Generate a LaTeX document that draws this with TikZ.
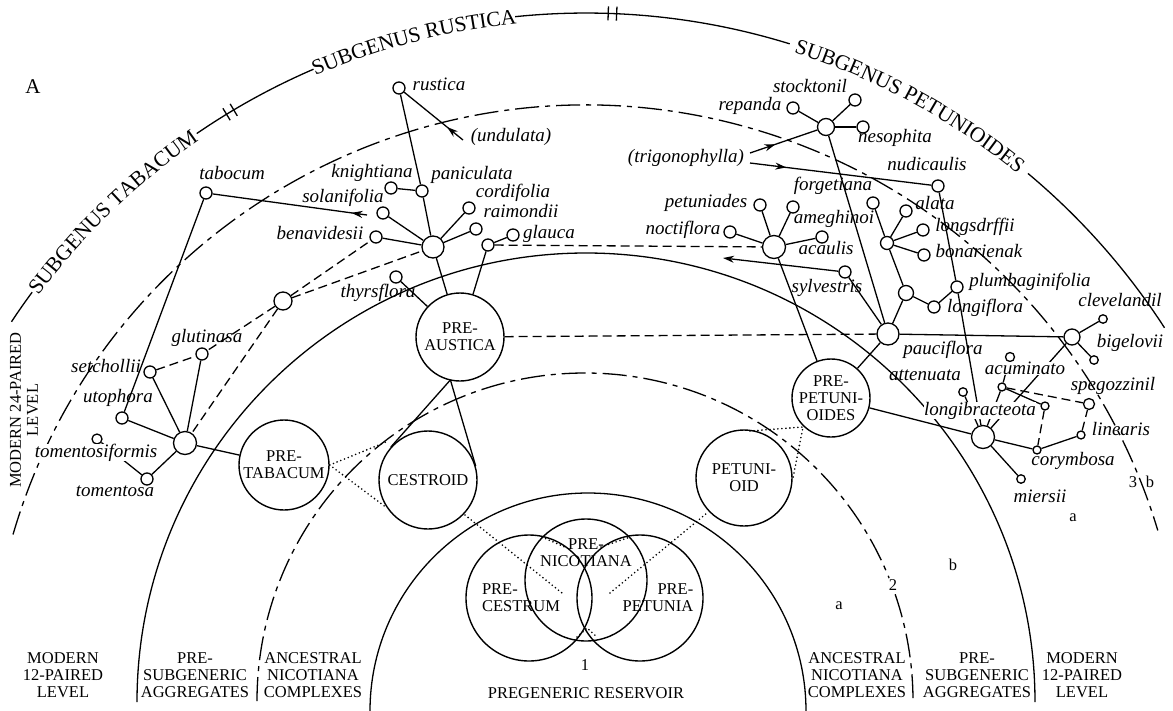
\documentclass[tikz,border=0pt]{standalone}
\usepackage{fontspec}
\setmainfont{Liberation Serif}
\usetikzlibrary{calc,decorations.text,decorations.markings,arrows.meta}
\newcommand\lbf{\fontsize{19}{19}\selectfont\itshape}
\newcommand\capf{\fontsize{16.5}{17}\selectfont}
\newcommand\subgf{\fontsize{21.5}{21.5}\selectfont}
\begin{document}
\begin{tikzpicture}[x=1pt,y=-1pt,line width=1.3pt,
  leaf/.style={circle,draw,fill=white,minimum size=12pt,inner sep=0pt},
  sleaf/.style={leaf,minimum size=8.5pt},
  hub/.style={circle,draw,fill=white,minimum size=22pt,inner sep=0pt},
  big/.style={circle,draw,inner sep=0pt,line width=1.4pt},
  lab/.style={font=\lbf,inner sep=0pt,anchor=mid},
  captxt/.style={font=\capf,align=center,inner sep=0pt},
  dsh/.style={dash pattern=on 9pt off 5pt},
  dotl/.style={line cap=round,dash pattern=on 0pt off 4pt,line width=1.8pt},
  ddot/.style={dash pattern=on 24pt off 6pt on 5pt off 6pt},
  midarr/.style={postaction={decorate,decoration={markings,mark=at position #1 with {\arrow{Stealth[length=11pt,width=7pt]}}}}}
]
\useasboundingbox (0,0) rectangle (1173,710);
% ---------- concentric arcs ----------
\coordinate (C) at (586,702);
\draw (588,711) ++(180:218) arc[start angle=180,end angle=360,radius=218];
\draw[ddot] (585,701) ++(180:328) arc[start angle=180,end angle=338,radius=328];
\draw[ddot] (585,701) ++(341:328) arc[start angle=341,end angle=360,radius=328];
\draw (C) ++(180:449) arc[start angle=180,end angle=360,radius=449];
\draw[ddot] (C) ++(196.3:597) arc[start angle=196.3,end angle=343.3,radius=597];
% outer subgenus arc
\draw (C) ++(-146.5:689) arc[start angle=-146.5,end angle=-143.5,radius=689];
\draw (C) ++(-124.4:689) arc[start angle=-124.4,end angle=-113.3,radius=689];
\draw (C) ++(-95.9:689) arc[start angle=-95.9,end angle=-72.8,radius=689];
\draw (C) ++(-50.1:689) arc[start angle=-50.1,end angle=-32.9,radius=689];
\foreach \t in {-121.45,-120.75,-88.15,-87.45}{
  \draw ($(C)+(\t:682)$) -- ($(C)+(\t:696)$);
}
\path[decorate,decoration={text along path,text align=center,raise=-7pt,
  text={|\subgf|SUBGENUS TABACUM}}]
  (C) ++(-149:689) arc[start angle=-149,end angle=-119,radius=689];
\path[decorate,decoration={text along path,text align=center,raise=-7pt,
  text={|\subgf|SUBGENUS RUSTICA}}]
  (C) ++(-119.6:689) arc[start angle=-119.6,end angle=-89.6,radius=689];
\path[decorate,decoration={text along path,text align=center,raise=-7pt,
  text={|\subgf|SUBGENUS PETUNIOIDES}}]
  (C) ++(-76.5:689) arc[start angle=-76.5,end angle=-46.5,radius=689];
% ---------- big circles ----------
\node[big,minimum size=88pt] (preaustica) at (460,337) {};
\node[big,minimum size=98pt] (cestroid) at (428,480) {};
\node[big,minimum size=90pt] (pretabacum) at (284,465) {};
\node[big,minimum size=96pt] (petunioid) at (744,478) {};
\node[big,minimum size=78pt] (prepetunioides) at (831,398) {};
\node[big,minimum size=122pt] (prenicotiana) at (586,580) {};
\node[big,minimum size=126pt] (precestrum) at (529,598) {};
\node[big,minimum size=126pt] (prepetunia) at (640,598) {};
\node[captxt] (tpreaustica) at (preaustica) {PRE-\\AUSTICA};
\node[captxt] (tcestroid) at (cestroid) {CESTROID};
\node[captxt] (tpretabacum) at (pretabacum) {PRE-\\TABACUM};
\node[captxt] (tpetunioid) at (petunioid) {PETUNI-\\OID};
\node[captxt] (tprepetunioides) at (prepetunioides) {PRE-\\PETUNI-\\OIDES};
\node[captxt] (tnic) at (586,553) {PRE-\\NICOTIANA};
\node[captxt,align=left] (tces) at (521,598) {PRE-\\CESTRUM};
\node[captxt,align=right] (tpet) at (658,598) {PRE-\\PETUNIA};
% ---------- small nodes ----------
\node[leaf] (nrustica) at (399,88) {};
\node[hub] (h1) at (433,247) {};
\node[leaf] (npaniculata) at (422,191) {};
\node[leaf] (nknightiana) at (391,188) {};
\node[leaf] (nsolanifolia) at (383,213) {};
\node[leaf] (nbenavidesii) at (376,237) {};
\node[leaf] (ncordifolia) at (469,208) {};
\node[leaf] (nraimondii) at (476,229) {};
\node[leaf] (glaucaj) at (488,245) {};
\node[leaf] (nglauca) at (513,235) {};
\node[leaf] (nthyrsflora) at (396,277) {};
\node[hub,minimum size=18pt] (hx) at (283,301) {};
\node[hub,minimum size=23pt] (h2) at (185,443) {};
\node[leaf] (ntabocum) at (206,193) {};
\node[leaf] (nsetchollii) at (150,372) {};
\node[leaf] (nglutinasa) at (202,354) {};
\node[leaf] (nutophora) at (122,418) {};
\node[leaf,minimum size=10pt] (ntomentosiformis) at (97,439) {};
\node[leaf] (ntomentosa) at (147,479) {};
\node[hub,minimum size=17pt] (h3) at (826,127) {};
\node[leaf] (nstocktonil) at (855,100) {};
\node[leaf] (nrepanda) at (793,108) {};
\node[leaf] (nnesophita) at (863,127) {};
\node[leaf] (nnudicaulis) at (938,186) {};
\node[hub,minimum size=23pt] (h5) at (774,247) {};
\node[leaf] (npetuniades) at (760,205) {};
\node[leaf] (nameghinoi) at (793,207) {};
\node[leaf] (nnoctiflora) at (730,232) {};
\node[leaf] (nacaulis) at (822,237) {};
\node[leaf] (nforgetiana) at (873,203) {};
\node[hub,minimum size=13pt] (h8) at (887,243) {};
\node[leaf] (nalata) at (906,211) {};
\node[leaf] (nlongsdrffii) at (923,230) {};
\node[leaf] (nbonarienak) at (924,255) {};
\node[hub,minimum size=15pt] (hm) at (906,293) {};
\node[leaf] (nlongiflora) at (934,307) {};
\node[leaf] (nplumbaginifolia) at (957,287) {};
\node[leaf] (nsylvestris) at (845,272) {};
\node[hub] (h4) at (888,334) {};
\node[hub,minimum size=16pt] (h7) at (1072,337) {};
\node[sleaf] (nclevelandil) at (1103,319) {};
\node[sleaf] (nbigelovii) at (1094,360) {};
\node[hub,minimum size=23pt] (h6) at (983,437) {};
\node[sleaf] (nattenuata) at (963,392) {};
\node[sleaf,minimum size=9pt] (nacutop) at (1010,357) {};
\node[sleaf,minimum size=8pt] (nacuminato) at (1002,387) {};
\node[sleaf,minimum size=8pt] (nn) at (1045,406) {};
\node[sleaf,minimum size=8pt] (ncorymbosa) at (1037,450) {};
\node[sleaf,minimum size=8pt] (nlinearis) at (1081,435) {};
\node[leaf,minimum size=11pt] (nspegozzinil) at (1089,404) {};
\node[sleaf] (nmiersii) at (1021,479) {};
% ---------- connectors ----------
\draw (nrustica) -- (npaniculata) -- (h1);
\draw (nknightiana) -- (npaniculata);
\draw (h1) -- (nsolanifolia);
\draw (h1) -- (nbenavidesii);
\draw (h1) -- (ncordifolia);
\draw (h1) -- (nraimondii);
\draw (h1) -- (preaustica);
\draw (glaucaj) -- (nglauca);
\draw (glaucaj) -- (preaustica);
\draw (nthyrsflora) -- (preaustica);
\coordinate (pa) at ($(preaustica.center)!44pt!(cestroid.center)$);
\draw (pa) -- (tangent cs:node=cestroid,point={(pa)},solution=1);
\draw (pa) -- (tangent cs:node=cestroid,point={(pa)},solution=2);
\draw (h2) -- (nsetchollii);
\draw (h2) -- (nglutinasa);
\draw (h2) -- (nutophora);
\draw (h2) -- (ntomentosa);
\draw (h2) -- (pretabacum);
\draw (ntomentosiformis) -- (ntomentosa);
\draw (ntabocum) -- (nutophora);
\draw (h3) -- (nstocktonil);
\draw (h3) -- (nrepanda);
\draw (h3) -- (nnesophita);
\draw (h3) -- (h4);
\draw (h5) -- (npetuniades);
\draw (h5) -- (nameghinoi);
\draw (h5) -- (nnoctiflora);
\draw (h5) -- (nacaulis);
\draw (h5) -- (prepetunioides);
\draw (h8) -- (nforgetiana);
\draw (h8) -- (nalata);
\draw (h8) -- (nlongsdrffii);
\draw (h8) -- (nbonarienak);
\draw (h8) -- (hm);
\draw (hm) -- (h4);
\draw (hm) -- (nlongiflora);
\draw (nlongiflora) -- (nplumbaginifolia);
\draw (nnudicaulis) -- (nplumbaginifolia) -- (h6);
\draw (nsylvestris) -- (h4);
\draw (h4) -- (prepetunioides);
\draw (h4) -- (h7);
\draw (h7) -- (nclevelandil);
\draw (h7) -- (nbigelovii);
\draw (h7) -- (h6);
\draw (prepetunioides) -- (h6);
\draw (h6) -- (nmiersii);
\draw (h6) -- (ncorymbosa);
\draw (h6) -- (nattenuata);
\draw (h6) -- (nacuminato);
\draw (nacuminato) -- (nn);
\draw (nacutop) -- (nacuminato);
\draw (ncorymbosa) -- (nlinearis);
% dashed
\draw[dsh] (glaucaj) -- (h5);
\draw[dsh] (preaustica) -- (h4);
\draw[dsh] (hx) -- (nbenavidesii);
\draw[dsh] (hx) -- (h1);
\draw[dsh] (hx) -- (nglutinasa);
\draw[dsh] (hx) -- (h2);
\draw[dsh] (nsetchollii) -- (nglutinasa);
\draw[dsh] (nn) -- (ncorymbosa);
\draw[dsh] (nlinearis) -- (nspegozzinil);
\draw[dsh] (nacuminato) -- (nspegozzinil);
% arrows
\coordinate (und) at (463,140);
\draw[midarr=0.27] (und) -- (nrustica);
\coordinate (trig1) at (750,153);
\draw[midarr=0.38] (trig1) -- (h3);
\coordinate (trig2) at (750,163);
\draw[midarr=0.2] (trig2) -- (nnudicaulis);
\coordinate (tabarr) at (367,215);
\draw[midarr=0.1] (tabarr) -- (ntabocum);
\coordinate (sylarr) at (723,258);
\draw[-{Stealth[length=11pt,width=7pt]}] (nsylvestris) -- (sylarr);
% dotted
\coordinate (dA) at (386,442);
\coordinate (dB) at (387,508);
\draw[dotl] (pretabacum.east) -- (dA);
\draw[dotl] (pretabacum.east) -- (dB);
\coordinate (dC1) at (465,515); \coordinate (dC2) at (562,593);
\draw[dotl] (dC1) -- (dC2);
\coordinate (dD1) at (542,537); \coordinate (dD2) at (567,548);
\draw[dotl] (dD1) -- (dD2);
\coordinate (dE1) at (610,593); \coordinate (dE2) at (707,513);
\draw[dotl] (dE1) -- (dE2);
\coordinate (dF1) at (601,547); \coordinate (dF2) at (630,537);
\draw[dotl] (dF1) -- (dF2);
\coordinate (dG1) at (577,637); \coordinate (dG2) at (587,628); \coordinate (dG3) at (597,637);
\draw[dotl] (dG1) -- (dG2) -- (dG3);
\coordinate (dH1) at (750,431); \coordinate (dH2) at (803,427); \coordinate (dH3) at (793,478);
\draw[dotl] (dH1) -- (dH2) -- (dH3);
% ---------- labels ----------
\node[lab] (lrustica) at (439,88) {rustica};
\node[lab] (lundulata) at (511,139) {(undulata)};
\node[lab] (lpaniculata) at (472,177) {paniculata};
\node[lab] (lknightiana) at (372,175) {knightiana};
\node[lab] (lsolanifolia) at (343,200) {solanifolia};
\node[lab] (lbenavidesii) at (320,237) {benavidesii};
\node[lab] (lcordifolia) at (513,195) {cordifolia};
\node[lab] (lraimondii) at (521,215) {raimondii};
\node[lab] (lglauca) at (549,236) {glauca};
\node[lab] (lthyrsflora) at (378,295) {thyrsflora};
\node[lab] (ltabocum) at (232,177) {tabocum};
\node[lab] (lsetchollii) at (106,370) {setchollii};
\node[lab] (lglutinasa) at (207,340) {glutinasa};
\node[lab] (lutophora) at (118,400) {utophora};
\node[lab,fill=white] (ltomentosiformis) at (96,455) {tomentosiformis};
\node[lab] (ltomentosa) at (115,494) {tomentosa};
\node[lab] (lstocktonil) at (810,90) {stocktonil};
\node[lab] (lrepanda) at (750,108) {repanda};
\node[lab] (lnesophita) at (895,140) {nesophita};
\node[lab] (ltrigonophylla) at (686,160) {(trigonophylla)};
\node[lab] (lnudicaulis) at (927,168) {nudicaulis};
\node[lab] (lpetuniades) at (706,205) {petuniades};
\node[lab] (lameghinoi) at (834,221) {ameghinoi};
\node[lab] (lnoctiflora) at (683,232) {noctiflora};
\node[lab] (lacaulis) at (826,252) {acaulis};
\node[lab] (lforgetiana) at (833,188) {forgetiana};
\node[lab] (lalata) at (935,207) {alata};
\node[lab] (llongsdrffii) at (975,229) {longsdrffii};
\node[lab] (lbonarienak) at (979,255) {bonarienak};
\node[lab] (llongiflora) at (985,310) {longiflora};
\node[lab] (lplumbaginifolia) at (1030,284) {plumbaginifolia};
\node[lab] (lsylvestris) at (827,290) {sylvestris};
\node[lab] (lclevelandil) at (1120,304) {clevelandil};
\node[lab] (lbigelovii) at (1130,345) {bigelovii};
\node[lab] (lpauciflora) at (943,352) {pauciflora};
\node[lab] (lattenuata) at (925,378) {attenuata};
\node[lab,fill=white] (lacuminato) at (1025,372) {acuminato};
\node[lab] (lspegozzinil) at (1113,388) {spegozzinil};
\node[lab,fill=white] (llongibracteota) at (980,413) {longibracteota};
\node[lab] (llinearis) at (1121,433) {linearis};
\node[lab] (lcorymbosa) at (1073,463) {corymbosa};
\node[lab] (lmiersii) at (1040,500) {miersii};
% ---------- zone labels ----------
\node[font=\fontsize{21}{21}\selectfont,inner sep=0pt] (Alab) at (33,87) {A};
\node[captxt,rotate=90] (vlev) at (24,410) {MODERN 24-PAIRED\\LEVEL};
\node[captxt] (bl1) at (63,675) {MODERN\\12-PAIRED\\LEVEL};
\node[captxt] (bl2) at (195,675) {PRE-\\SUBGENERIC\\AGGREGATES};
\node[captxt] (bl3) at (313,675) {ANCESTRAL\\NICOTIANA\\COMPLEXES};
\node[captxt] (bl4) at (586,693) {PREGENERIC RESERVOIR};
\node[captxt] (br3) at (857,675) {ANCESTRAL\\NICOTIANA\\COMPLEXES};
\node[captxt] (br2) at (977,675) {PRE-\\SUBGENERIC\\AGGREGATES};
\node[captxt] (br1) at (1082,675) {MODERN\\12-PAIRED\\LEVEL};
\node[captxt] (num1) at (585,665) {1};
\node[captxt] (num2) at (893,585) {2};
\node[captxt] (za1) at (839,606) {a};
\node[captxt] (zb1) at (953,565) {b};
\node[captxt] (za2) at (1073,518) {a};
\node[captxt] (num3) at (1133,482) {3};
\node[captxt] (zb2) at (1150,482) {b};
\end{tikzpicture}
\end{document}
